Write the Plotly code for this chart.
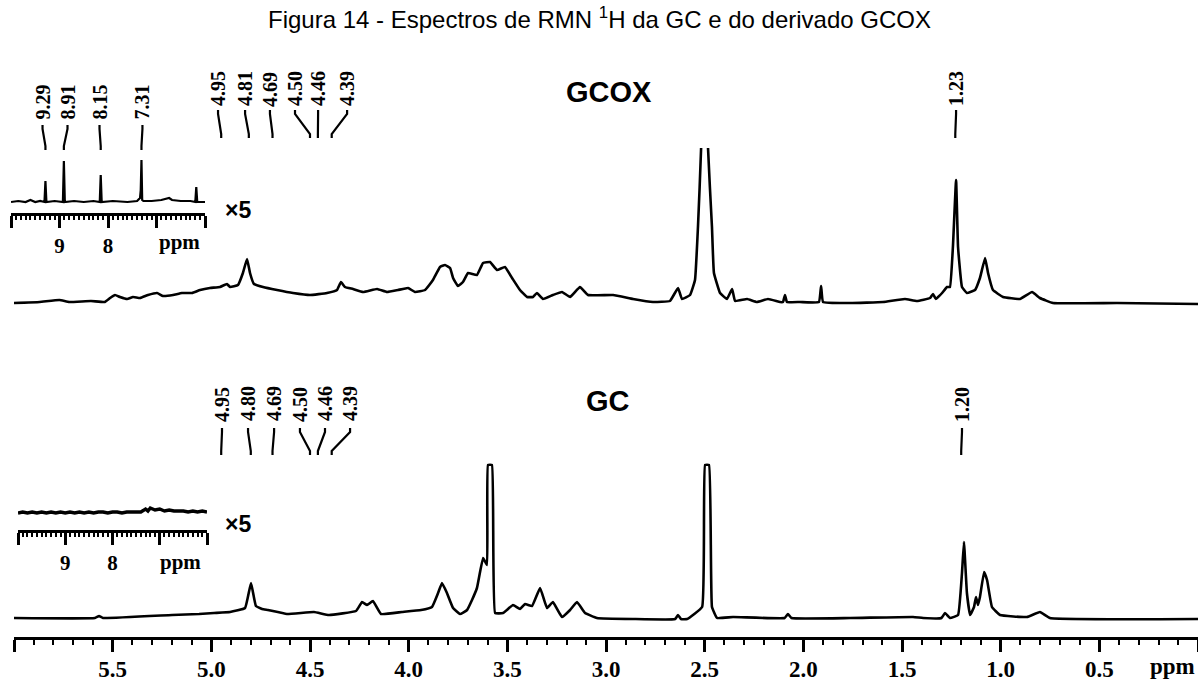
import plotly.graph_objects as go

# ---------------- DATA ----------------
# GCOX spectrum, main window (ppm, relative intensity)
gcox_ppm = [6.00, 5.87, 5.77, 5.72, 5.61, 5.54, 5.513, 5.488, 5.463, 5.427, 5.397, 5.361, 5.321, 5.275,
            5.245, 5.194, 5.149, 5.098, 5.057, 5.007, 4.956, 4.921, 4.905, 4.865, 4.840, 4.819, 4.804,
            4.784, 4.738, 4.667, 4.586, 4.500, 4.414, 4.363, 4.343, 4.323, 4.282, 4.231, 4.160, 4.110,
            4.054, 4.003, 3.968, 3.917, 3.877, 3.841, 3.816, 3.790, 3.775, 3.750, 3.725, 3.699, 3.654,
            3.623, 3.588, 3.552, 3.512, 3.476, 3.436, 3.400, 3.370, 3.350, 3.319, 3.269, 3.223, 3.182,
            3.132, 3.091, 2.964, 2.863, 2.762, 2.676, 2.635, 2.615, 2.574, 2.549, 2.534, 2.518, 2.501,
            2.483, 2.463, 2.453, 2.422, 2.387, 2.361, 2.346, 2.285, 2.235, 2.179, 2.118, 2.103, 2.093,
            2.083, 2.017, 1.921, 1.910, 1.900, 1.763, 1.596, 1.485, 1.424, 1.358, 1.343, 1.328, 1.297,
            1.272, 1.257, 1.242, 1.226, 1.216, 1.196, 1.171, 1.130, 1.105, 1.079, 1.064, 1.039, 0.988,
            0.902, 0.841, 0.801, 0.735, 0.410, 0.000]
gcox_int = [0, 1, 3, 1, 2, 1, 5, 8, 6, 4, 6, 5, 8, 10,
            7, 8, 10, 10, 13, 15, 16, 19, 16, 18, 30, 44, 30,
            19, 16, 13, 10, 8, 10, 13, 21, 16, 14, 11, 14, 11,
            13, 15, 11, 13, 23, 36, 38, 35, 25, 17, 21, 30, 28,
            40, 41, 33, 36, 25, 13, 6, 6, 10, 4, 8, 11, 6,
            16, 8, 8, 4, 1, 2, 15, 4, 8, 23, 76, 155, 600,
            155, 76, 30, 10, 4, 14, 2, 4, 1, 4, 1, 1, 8,
            1, 1, 1, 17, 1, 0, 1, 4, 2, 5, 9, 4, 10,
            16, 16, 56, 123, 56, 16, 10, 13, 25, 45, 30, 13, 6,
            4, 11, 5, 0, 0, -1]

# GC spectrum, main window
gc_ppm = [6.00, 5.59, 5.569, 5.549, 5.199, 5.062, 4.986, 4.905, 4.829, 4.799, 4.774, 4.743, 4.713,
          4.617, 4.480, 4.404, 4.267, 4.236, 4.211, 4.181, 4.140, 4.034, 3.937, 3.882, 3.851, 3.831,
          3.806, 3.775, 3.740, 3.704, 3.679, 3.654, 3.623, 3.603, 3.598, 3.578, 3.562, 3.522, 3.471,
          3.436, 3.410, 3.375, 3.334, 3.299, 3.269, 3.223, 3.182, 3.147, 3.106, 3.046, 2.863, 2.650,
          2.635, 2.620, 2.589, 2.513, 2.498, 2.478, 2.463, 2.437, 2.356, 2.095, 2.078, 2.060, 1.763,
          1.444, 1.393, 1.300, 1.282, 1.257, 1.216, 1.196, 1.186, 1.171, 1.155, 1.135, 1.125, 1.115,
          1.105, 1.084, 1.069, 1.044, 1.003, 0.867, 0.801, 0.750, 0.000]
gc_int = [0, 0, 2, 0, 3, 4, 5, 6, 10, 35, 12, 9, 8,
          4, 6, 3, 7, 16, 13, 17, 4, 6, 8, 11, 25, 35,
          25, 10, 4, 8, 18, 30, 60, 53, 153, 153, 5, 5, 13,
          9, 14, 12, 30, 10, 16, 1, 8, 16, 5, 0, -1, -1,
          3, -1, -1, 11, 153, 153, 11, 0, 1, 0, 4, 0, 0,
          1, 0, 0, 5, 0, 3, 45, 76, 25, 3, 11, 21, 13,
          21, 46, 38, 11, 3, 1, 6, 0, -1]

# x5 insets (aromatic window 10-6 ppm)
gcox_in_ppm = [10.0, 9.85, 9.70, 9.60, 9.50, 9.40, 9.31, 9.29, 9.27, 9.10, 8.93, 8.91, 8.89, 8.70,
               8.50, 8.30, 8.17, 8.15, 8.13, 7.90, 7.60, 7.40, 7.34, 7.325, 7.31, 7.295, 7.27, 7.10,
               6.90, 6.80, 6.74, 6.68, 6.50, 6.30, 6.20, 6.18, 6.16, 6.0]
gcox_in_int = [0, 1, 0, 2, 0, 1, 0, 21, 0, 1, 0, 41, 0, 1,
               0, 1, 0, 27, 0, 1, 0, 1, 4, 12, 42, 2, 1, 1,
               2, 3, 4, 2, 1, 1, 0, 15, 0, 0]
gc_in_ppm = [10.0, 9.9, 9.8, 9.7, 9.6, 9.5, 9.4, 9.3, 9.2, 9.1, 9.0, 8.9, 8.8, 8.7, 8.6, 8.5, 8.4,
             8.3, 8.2, 8.1, 8.0, 7.9, 7.8, 7.7, 7.6, 7.5, 7.4, 7.3, 7.25, 7.2, 7.1, 7.0, 6.9, 6.8,
             6.7, 6.6, 6.5, 6.4, 6.3, 6.2, 6.1, 6.0]
gc_in_int = [0, 1, 0, 1, 0, 1, 0, 1, 0, 1, 0, 1, 0, 1, 0, 1, 0,
             1, 1, 0, 1, 1, 0, 1, 1, 1, 1, 4, 2, 5, 3, 4, 2, 3,
             2, 2, 2, 1, 2, 1, 2, 1]

# peak labels
gcox_main_peaks = [4.95, 4.81, 4.69, 4.50, 4.46, 4.39, 1.23]
gcox_main_text = ["4.95", "4.81", "4.69", "4.50", "4.46", "4.39", "1.23"]
gc_main_peaks = [4.95, 4.80, 4.69, 4.50, 4.46, 4.39, 1.20]
gc_main_text = ["4.95", "4.80", "4.69", "4.50", "4.46", "4.39", "1.20"]
gcox_in_peaks = [9.29, 8.91, 8.15, 7.31]
gcox_in_text = ["9.29", "8.91", "8.15", "7.31"]

main_ticks = [6.0, 5.5, 5.0, 4.5, 4.0, 3.5, 3.0, 2.5, 2.0, 1.5, 1.0, 0.5, 0.0]
main_ticktext = ["", "5.5", "5.0", "4.5", "4.0", "3.5", "3.0", "2.5", "2.0", "1.5", "1.0", "0.5", ""]
inset_ticks = [10, 9, 8, 7, 6]
inset_ticktext = ["", "9", "8", "", ""]

title_text = "Figura 14 - Espectros de RMN <sup>1</sup>H da GC e do derivado GCOX"

# ---------------- LAYOUT helpers ----------------
W, H = 1198, 684
def px(x):
    return x / W
def py(y):
    return (H - y) / H

# label placement (x position of rotated text, in ppm of its axis)
gcox_main_lab_x = [4.966, 4.829, 4.703, 4.576, 4.459, 4.312, 1.226]
gc_main_lab_x = [4.946, 4.814, 4.682, 4.551, 4.424, 4.297, 1.196]
gcox_in_lab_x = [9.35, 8.835, 8.175, 7.29]

SERIF = "Liberation Serif"
SANS = "Liberation Sans"
LW = 2.6

def spec_line(w):
    return dict(color="black", width=w, shape="spline", smoothing=0.3)

fig = go.Figure()
fig.add_trace(go.Scatter(x=gc_ppm, y=gc_int, mode="lines", xaxis="x", yaxis="y",
                         line=spec_line(LW), hoverinfo="skip", showlegend=False))
fig.add_trace(go.Scatter(x=gcox_ppm, y=gcox_int, mode="lines", xaxis="x", yaxis="y2",
                         line=spec_line(LW), hoverinfo="skip", showlegend=False))
fig.add_trace(go.Scatter(x=gcox_in_ppm, y=gcox_in_int, mode="lines", xaxis="x2", yaxis="y3",
                         line=dict(color="black", width=2.2), hoverinfo="skip", showlegend=False))
fig.add_trace(go.Scatter(x=gc_in_ppm, y=gc_in_int, mode="lines", xaxis="x3", yaxis="y4",
                         line=dict(color="black", width=3.4), hoverinfo="skip", showlegend=False))

minor_main = dict(tickmode="linear", tick0=0, dtick=0.1, ticks="outside", ticklen=5,
                  tickwidth=2, tickcolor="black")
minor_in = dict(tickmode="linear", tick0=0, dtick=0.1, ticks="outside", ticklen=4,
                tickwidth=1.5, tickcolor="black")

fig.update_layout(
    width=W, height=H, template="none",
    margin=dict(l=0, r=0, t=0, b=0),
    paper_bgcolor="white", plot_bgcolor="rgba(0,0,0,0)",
    showlegend=False,
    xaxis=dict(domain=[px(14), 1], range=[6.0, 0.0], anchor="y", showgrid=False, zeroline=False,
               showline=True, linecolor="black", linewidth=2.5, ticks="outside", ticklen=12,
               tickwidth=2.5, tickcolor="black", tickmode="array", tickvals=main_ticks,
               ticktext=main_ticktext, tickfont=dict(family=SERIF, size=23, color="black", weight="bold"),
               ticklabelstandoff=-2, minor=minor_main, automargin=False, fixedrange=True),
    yaxis=dict(domain=[py(637), 1], range=[-19, 618], anchor="x", visible=False, fixedrange=True),
    yaxis2=dict(domain=[py(637), py(148)], range=[-334, 155], anchor="x", visible=False, fixedrange=True),
    xaxis2=dict(domain=[px(11), px(205)], range=[10, 6], anchor="y3", showgrid=False, zeroline=False,
                showline=True, linecolor="black", linewidth=2.5, ticks="outside", ticklen=12,
                tickwidth=2.5, tickcolor="black", tickmode="array", tickvals=inset_ticks,
                ticktext=inset_ticktext, tickfont=dict(family=SERIF, size=21, color="black", weight="bold"),
                ticklabelstandoff=0, minor=minor_in, automargin=False, fixedrange=True),
    yaxis3=dict(domain=[py(213), py(150)], range=[-11, 52], anchor="x2", visible=False, fixedrange=True),
    xaxis3=dict(domain=[px(18), px(207)], range=[10, 6], anchor="y4", showgrid=False, zeroline=False,
                showline=True, linecolor="black", linewidth=2.5, ticks="outside", ticklen=12,
                tickwidth=2.5, tickcolor="black", tickmode="array", tickvals=inset_ticks,
                ticktext=inset_ticktext, tickfont=dict(family=SERIF, size=21, color="black", weight="bold"),
                ticklabelstandoff=0, minor=minor_in, automargin=False, fixedrange=True),
    yaxis4=dict(domain=[py(530), py(490)], range=[-17, 23], anchor="x3", visible=False, fixedrange=True),
)

annotations = []
shapes = []

def add_label(xref, x_lab, x_pk, text, text_cy, top, bot):
    annotations.append(dict(xref=xref, yref="paper", x=x_lab, y=py(text_cy), text="<b>%s</b>" % text,
                            showarrow=False, textangle=-90, xanchor="center", yanchor="middle",
                            font=dict(family=SERIF, size=20, color="black")))
    path = "M %s,%s L %s,%s L %s,%s L %s,%s" % (x_lab, py(top), x_lab, py(top + 4),
                                                 x_pk, py(bot - 4), x_pk, py(bot))
    shapes.append(dict(type="path", xref=xref, yref="paper", path=path,
                       line=dict(color="black", width=2.2)))

for xl, xp, t in zip(gcox_main_lab_x, gcox_main_peaks, gcox_main_text):
    add_label("x", xl, xp, t, 89, 110, 138)
for xl, xp, t in zip(gc_main_lab_x, gc_main_peaks, gc_main_text):
    add_label("x", xl, xp, t, 404, 428, 455)
for xl, xp, t in zip(gcox_in_lab_x, gcox_in_peaks, gcox_in_text):
    add_label("x2", xl, xp, t, 102, 125, 150)

def add_text(x, y, text, family, size, bold=True, xanchor="center"):
    annotations.append(dict(xref="paper", yref="paper", x=px(x), y=py(y),
                            text=("<b>%s</b>" % text) if bold else text, showarrow=False,
                            xanchor=xanchor, yanchor="middle",
                            font=dict(family=family, size=size, color="black")))

add_text(599, 18, title_text, SANS, 24, bold=False)
add_text(609, 92, "GCOX", SANS, 29)
add_text(608, 401, "GC", SANS, 29)
add_text(238, 210, "×5", SANS, 23)
add_text(238, 524, "×5", SANS, 23)
add_text(1197, 666, "ppm", SERIF, 23, xanchor="right")
add_text(179, 242, "ppm", SERIF, 21)
add_text(180, 562, "ppm", SERIF, 21)

fig.update_layout(annotations=annotations, shapes=shapes)
fig.write_html("out.html", config={"displayModeBar": False},
               post_script="document.body.style.margin='0';document.body.style.overflow='hidden';")
